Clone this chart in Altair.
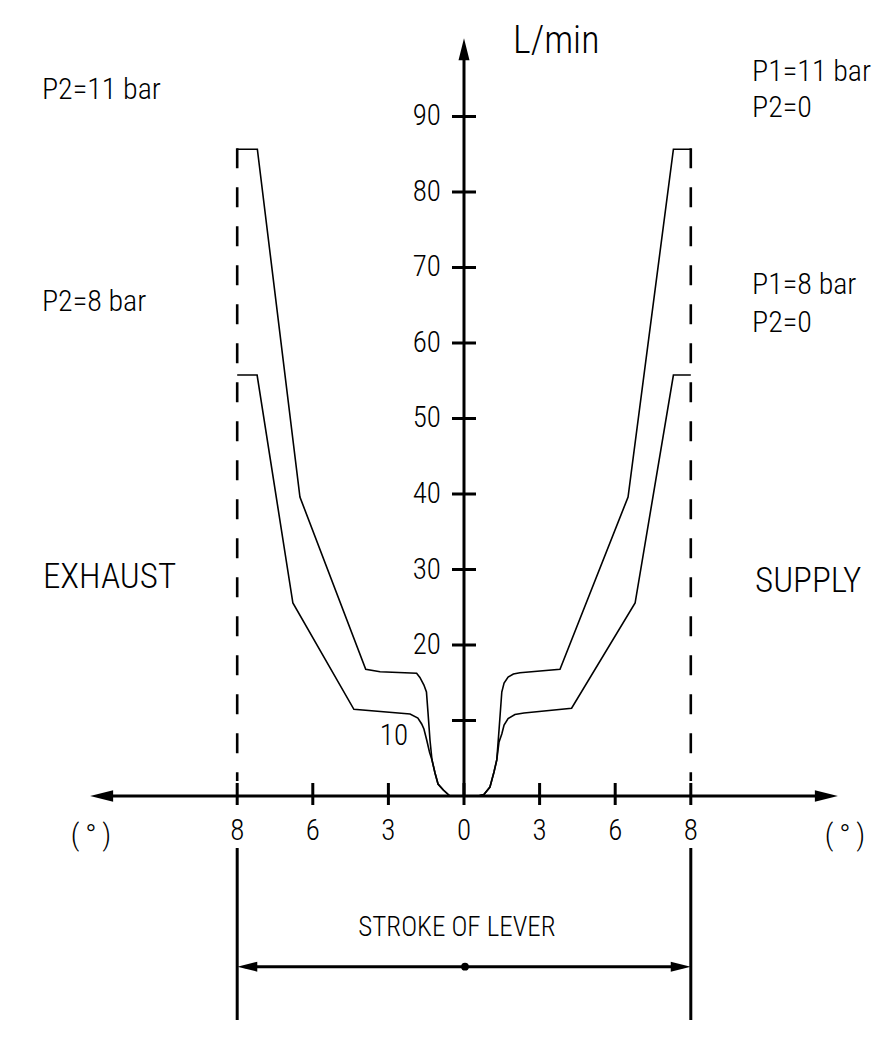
import altair as alt
import pandas as pd

# ---------------- data (x: lever stroke position units, y: flow L/min) ----------------
x_tick_pos = [-9, -6, -3, 0, 3, 6, 9]
x_tick_labels = ["8", "6", "3", "0", "3", "6", "8"]
y_tick_vals = [10, 20, 30, 40, 50, 60, 70, 80, 90]
y_tick_labels = ["10", "20", "30", "40", "50", "60", "70", "80", "90"]

# right side (SUPPLY)
r_base_u = [0.56, 0.79, 1.03, 1.19, 1.30]
r_base_v = [0.0, 0.20, 1.19, 3.18, 4.77]
r_up_u = [1.39, 1.50, 1.59, 1.75, 1.96, 2.22, 3.81, 6.51, 8.31, 9.0]
r_up_v = [8.74, 13.77, 14.97, 15.76, 16.16, 16.33, 16.78, 39.60, 85.66, 85.66]
r_lo_u = [1.39, 1.50, 1.59, 1.75, 2.02, 2.38, 4.27, 6.79, 8.31, 9.0]
r_lo_v = [7.15, 8.21, 9.40, 10.26, 10.79, 10.99, 11.62, 25.56, 55.76, 55.76]

# left side (EXHAUST)
l_base_u = [-0.56, -0.82, -1.03, -1.15, -1.27]
l_base_v = [0.0, 0.79, 1.59, 3.05, 4.77]
l_up_u = [-1.35, -1.43, -1.49, -1.59, -1.75, -1.88, -3.33, -3.90, -6.51, -8.20, -9.0]
l_up_v = [7.42, 11.13, 13.77, 14.70, 15.70, 16.25, 16.46, 16.78, 39.60, 85.66, 85.66]
l_lo_u = [-1.37, -1.48, -1.59, -1.68, -1.83, -2.14, -4.37, -6.79, -8.21, -9.0]
l_lo_v = [5.83, 7.42, 8.87, 9.54, 10.33, 10.86, 11.48, 25.56, 55.76, 55.76]

labels_text = ["P2=11  bar", "P2=8  bar", "P1=11  bar", "P2=0", "P1=8  bar", "P2=0"]
labels_u = [-16.75, -16.75, 11.43, 11.43, 11.43, 11.43]
labels_v = [93.5, 65.43, 95.9, 91.1, 67.65, 62.7]
side_text = ["EXHAUST", "SUPPLY"]
side_u = [-16.71, 11.55]
side_v = [29.0, 28.5]

FONT = "Roboto Condensed, Liberation Sans Narrow, Liberation Sans, sans-serif"
W, H = 878, 1021
XDOM = [-18.095, 16.746]
YDOM = [-30.86, 104.37]

xs = alt.Scale(domain=XDOM, nice=False, zero=False)
ys = alt.Scale(domain=YDOM, nice=False, zero=False)


def X(f="u"):
    return alt.X(f"{f}:Q", scale=xs, axis=None)


def Y(f="v"):
    return alt.Y(f"{f}:Q", scale=ys, axis=None)


# ---------------- curves ----------------
rows = []
def add(name, us, vs):
    for i, (a, b) in enumerate(zip(us, vs)):
        rows.append({"series": name, "ord": i, "u": a, "v": b})

add("R11", r_base_u + r_up_u, r_base_v + r_up_v)
add("R8", r_base_u + r_lo_u, r_base_v + r_lo_v)
add("L11", l_base_u + l_up_u, l_base_v + l_up_v)
add("L8", l_base_u + l_lo_u, l_base_v + l_lo_v)
curves_df = pd.DataFrame(rows)

curves = alt.Chart(curves_df).mark_line(color="black", strokeWidth=1.6).encode(
    x=X(), y=Y(), detail="series:N", order="ord:Q")

# ---------------- axes lines and ticks (all as segments) ----------------
seg_rows = [
    {"u": -14.5, "u2": 14.5, "v": 0, "v2": 0},      # x axis
    {"u": 0, "u2": 0, "v": 0, "v2": 99.0},          # y axis
]
for p in x_tick_pos:
    seg_rows.append({"u": p, "u2": p, "v": 1.72, "v2": -1.19})
for t in y_tick_vals:
    seg_rows.append({"u": -0.476, "u2": 0.476, "v": t, "v2": t})
# stroke-of-lever dimension
seg_rows += [
    {"u": -9.0, "u2": -9.0, "v": -6.89, "v2": -29.67},
    {"u": 9.0, "u2": 9.0, "v": -6.89, "v2": -29.67},
    {"u": -8.7, "u2": 8.7, "v": -22.6, "v2": -22.6},
]
seg_df = pd.DataFrame(seg_rows)
segments = alt.Chart(seg_df).mark_rule(color="black", strokeWidth=3).encode(
    x=X(), x2="u2:Q", y=Y(), y2="v2:Q")

# dashed stroke limits
dash_df = pd.DataFrame({"u": [-9.0, 9.0], "u2": [-9.0, 9.0],
                        "v": [85.8, 85.8], "v2": [2.0, 2.0]})
dashed = alt.Chart(dash_df).mark_rule(color="black", strokeWidth=2.6,
                                      strokeDash=[20, 19]).encode(
    x=X(), x2="u2:Q", y=Y(), y2="v2:Q")

# arrows
arr_df = pd.DataFrame([
    {"u": -14.38, "v": 0, "shape": "M-1,0 L1,-0.5 L1,0.5 Z", "size": 529},
    {"u": 14.38, "v": 0, "shape": "M1,0 L-1,-0.5 L-1,0.5 Z", "size": 529},
    {"u": 0, "v": 98.9, "shape": "M0,-1 L-0.5,1 L0.5,1 Z", "size": 484},
    {"u": -8.6, "v": -22.6, "shape": "M-1,0 L1,-0.5 L1,0.5 Z", "size": 400},
    {"u": 8.6, "v": -22.6, "shape": "M1,0 L-1,-0.5 L-1,0.5 Z", "size": 400},
    {"u": 0.04, "v": -22.6, "shape": "circle", "size": 60},
])
arrows = alt.Chart(arr_df).mark_point(filled=True, color="black", opacity=1).encode(
    x=X(), y=Y(), shape=alt.Shape("shape:N", scale=None),
    size=alt.Size("size:Q", scale=None))

# tick labels
xl_df = pd.DataFrame({"u": x_tick_pos, "v": [-4.64] * len(x_tick_pos),
                      "lab": x_tick_labels})
x_labels = alt.Chart(xl_df).mark_text(font=FONT, fontSize=29, fontWeight=300,
                                      baseline="middle", align="center").encode(
    x=X(), y=Y(), text="lab:N")

yl_df = pd.DataFrame({
    "v": [8.0] + y_tick_vals[1:],
    "u": [-2.222] + [-0.913] * (len(y_tick_vals) - 1),
    "lab": y_tick_labels,
})
y_labels = alt.Chart(yl_df).mark_text(font=FONT, fontSize=29, fontWeight=300,
                                      baseline="middle", align="right").encode(
    x=X(), y=Y(), text="lab:N")

# texts
lab_df = pd.DataFrame({"u": labels_u, "v": labels_v, "t": labels_text})
labels = alt.Chart(lab_df).mark_text(font=FONT, fontSize=30, fontWeight=300,
                                     align="left", baseline="middle").encode(
    x=X(), y=Y(), text="t:N")
side_df = pd.DataFrame({"u": side_u, "v": side_v, "t": side_text})
side_labels = alt.Chart(side_df).mark_text(font=FONT, fontSize=35, fontWeight=300,
                                           align="left", baseline="middle").encode(
    x=X(), y=Y(), text="t:N")

lmin = alt.Chart(pd.DataFrame({"u": [1.944], "v": [99.87], "t": ["L/min"]})).mark_text(
    font=FONT, fontSize=38, fontWeight=300, align="left", baseline="middle").encode(
    x=X(), y=Y(), text="t:N")
deg = alt.Chart(pd.DataFrame({"u": [-14.8, 15.12], "v": [-5.30, -5.30],
                              "t": ["(\u2009°\u2009)", "(\u2009°\u2009)"]})).mark_text(
    font=FONT, fontSize=30, fontWeight=300, align="center", baseline="middle").encode(
    x=X(), y=Y(), text="t:N")
stroke_txt = alt.Chart(pd.DataFrame({"u": [-0.28], "v": [-17.42],
                                     "t": ["STROKE OF LEVER"]})).mark_text(
    font=FONT, fontSize=27, fontWeight=300, align="center", baseline="middle").encode(
    x=X(), y=Y(), text="t:N")

chart = alt.layer(
    dashed, curves, segments, arrows,
    x_labels, y_labels, labels, side_labels, lmin, deg, stroke_txt
).properties(width=W, height=H, padding=0, autosize="none",
             background="white").configure_view(stroke=None)

chart.save("out.html", embed_options={"renderer": "svg", "actions": False})
